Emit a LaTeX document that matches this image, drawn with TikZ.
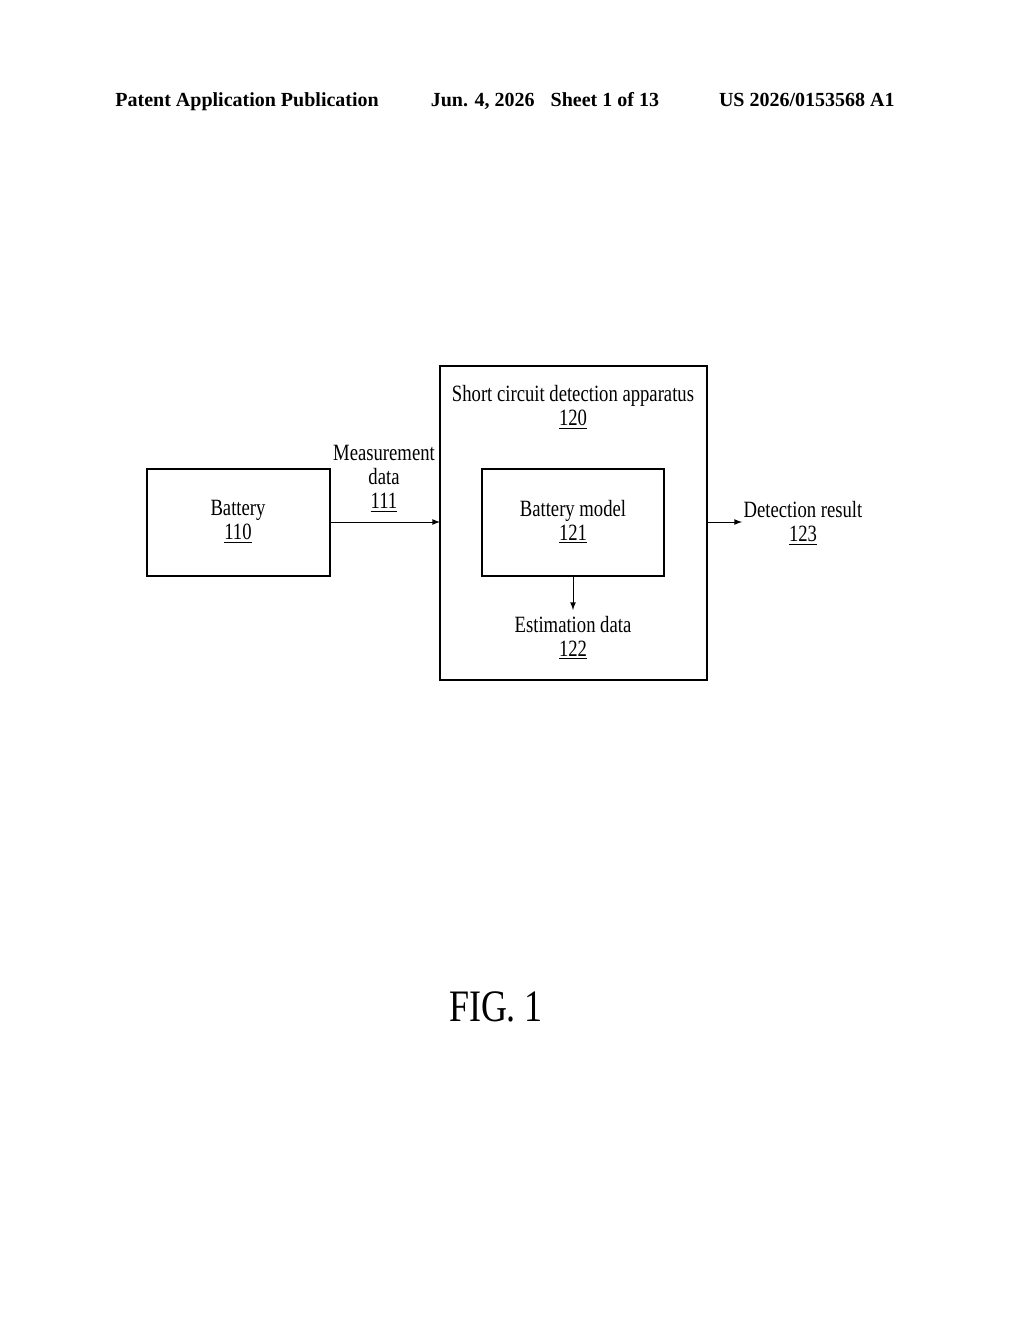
\documentclass[tikz,border=0pt]{standalone}
\usepackage{fontspec}
\setmainfont{Liberation Serif}
\newfontfamily\narrowfont[FakeStretch=0.8]{Liberation Serif}
\usetikzlibrary{positioning}
\begin{document}
\begin{tikzpicture}[
    x=0.6pt, y=-0.6pt,
    box/.style={draw, line width=1pt},
    lbl/.style={font=\narrowfont\fontsize{14}{14.4}\selectfont, align=center, inner sep=0pt},
    arr/.style={-latex, line width=0.6pt}
]
\useasboundingbox (0,0) rectangle (1024,1320);
% header
\node[font=\bfseries\fontsize{12}{12}\selectfont, anchor=base] (hdr) at (505,106)
    {Patent Application Publication\hspace{2.6em}Jun. 4, 2026\hspace{0.8em}Sheet 1 of 13\hspace{3em}US 2026/0153568 A1};
% boxes
\draw[box] (147,469) rectangle (330,576);
\draw[box] (440,366) rectangle (707,680);
\draw[line width=0.8pt] (482,469) rectangle (664,576);
\coordinate (batR) at (330,522);
\coordinate (appL) at (440,522);
\coordinate (appR) at (707,522);
\coordinate (detL) at (742,522);
\coordinate (modB) at (573,576);
\coordinate (estT) at (573,610);
% labels
\node[lbl] (battery) at (238,522) {Battery\\\underline{110}};
\node[lbl] (meas) at (384,479) {Measurement\\data\\\underline{111}};
\node[lbl] (app) at (573,407) {Short circuit detection apparatus\\\underline{120}};
\node[lbl] (model) at (573,522) {Battery model\\\underline{121}};
\node[lbl] (est) at (573,638) {Estimation data\\\underline{122}};
\node[lbl] (det) at (803,523) {Detection result\\\underline{123}};
% connectors
\draw[arr] (batR) -- (appL);
\draw[arr] (appR) -- (detL);
\draw[arr] (modB) -- (estT);
% caption
\node[font=\narrowfont\fontsize{27}{27}\selectfont] (fig) at (496,1007) {FIG. 1};
\end{tikzpicture}
\end{document}
